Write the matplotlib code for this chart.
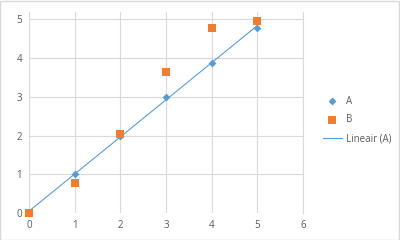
import matplotlib
matplotlib.use("Agg")
import matplotlib.pyplot as plt
import numpy as np

x = [0, 1, 2, 3, 4, 5]
a_vals = [0, 1.0, 2.0, 3.0, 3.88, 4.78]
b_vals = [0, 0.78, 2.05, 3.65, 4.78, 4.96]
series_names = ["A", "B", "Lineair (A)"]

blue = "#5B9BD5"
orange = "#ED7D31"
grid_c = "#D9D9D9"
text_c = "#595959"

plt.rcParams['font.family'] = ['Open Sans', 'DejaVu Sans']

fig = plt.figure(figsize=(4, 2.4), dpi=100)
fig.patch.set_facecolor("white")
ax = fig.add_axes([0.0725, 0.1125, 0.685, 0.8375])

coef = np.polyfit(x, a_vals, 1)
xl = np.array([0, 5])
hA = ax.scatter(x, a_vals, marker="D", s=16, color=blue, label=series_names[0],
                zorder=3, linewidths=0, clip_on=False)
hB = ax.scatter(x, b_vals, marker="s", s=30, color=orange, label=series_names[1],
                zorder=4, linewidths=0, clip_on=False)
hL, = ax.plot(xl, np.polyval(coef, xl), color=blue, lw=0.8, label=series_names[2], zorder=2)

ax.set_xlim(0, 6)
ax.set_ylim(0, 5.19)
ax.set_xticks(range(0, 7))
ax.set_yticks(range(0, 6))
ax.grid(True, color=grid_c, lw=0.8)
ax.set_axisbelow(True)
for s in ["top", "left", "bottom"]:
    ax.spines[s].set_visible(False)
ax.spines["right"].set_color(grid_c)
ax.spines["right"].set_linewidth(0.8)
ax.tick_params(length=0, labelsize=7, colors=text_c, pad=5)

fig.legend([hA, hB, hL], series_names, loc="center left",
           bbox_to_anchor=(0.785, 0.5), frameon=False, fontsize=7,
           labelcolor=text_c, handlelength=2.0, labelspacing=0.8, handletextpad=0.4)

fig.add_artist(plt.Rectangle((0.001, 0.002), 0.997, 0.995, transform=fig.transFigure,
                             fill=False, edgecolor="#D9D9D9", lw=1))
fig.savefig("out.png", dpi=100)
